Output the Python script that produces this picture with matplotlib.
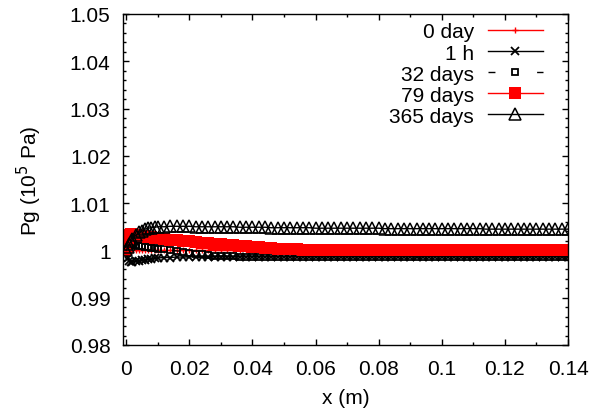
import matplotlib
matplotlib.use("Agg")
import matplotlib.pyplot as plt
from matplotlib.ticker import MultipleLocator

plt.rcParams['font.family'] = ['Liberation Sans', 'DejaVu Sans']

# distance from the boundary (m), refined mesh near x = 0
x = [0.0, 0.0005, 0.001, 0.0015, 0.002, 0.003, 0.004, 0.005, 0.006, 0.007, 0.008, 0.009, 0.010,
     0.012, 0.014, 0.016, 0.018, 0.020, 0.022, 0.024, 0.026, 0.028, 0.030,
     0.032, 0.034, 0.036, 0.038, 0.040, 0.042, 0.044, 0.046, 0.048, 0.050,
     0.052, 0.054, 0.056, 0.058, 0.060, 0.062, 0.064, 0.066, 0.068, 0.070,
     0.072, 0.074, 0.076, 0.078, 0.080, 0.082, 0.084, 0.086, 0.088, 0.090,
     0.092, 0.094, 0.096, 0.098, 0.100, 0.102, 0.104, 0.106, 0.108, 0.110,
     0.112, 0.114, 0.116, 0.118, 0.120, 0.122, 0.124, 0.126, 0.128, 0.130,
     0.132, 0.134, 0.136, 0.138, 0.140]

# gas pressure (1e5 Pa)
p_0day = [1.0, 1.0, 1.0, 1.0, 1.0, 1.0, 1.0, 1.0, 1.0, 1.0, 1.0, 1.0, 1.0,
          1.0, 1.0, 1.0, 1.0, 1.0, 1.0, 1.0, 1.0, 1.0, 1.0,
          1.0, 1.0, 1.0, 1.0, 1.0, 1.0, 1.0, 1.0, 1.0, 1.0,
          1.0, 1.0, 1.0, 1.0, 1.0, 1.0, 1.0, 1.0, 1.0, 1.0,
          1.0, 1.0, 1.0, 1.0, 1.0, 1.0, 1.0, 1.0, 1.0, 1.0,
          1.0, 1.0, 1.0, 1.0, 1.0, 1.0, 1.0, 1.0, 1.0, 1.0,
          1.0, 1.0, 1.0, 1.0, 1.0, 1.0, 1.0, 1.0, 1.0, 1.0,
          1.0, 1.0, 1.0, 1.0, 1.0]

p_1h = [1.0, 0.9985, 0.9978, 0.9976, 0.9976, 0.9977, 0.9978, 0.9979, 0.9980, 0.9981, 0.9982, 0.9983, 0.9984,
        0.9985, 0.9985, 0.9986, 0.9986, 0.9986, 0.9987, 0.9987, 0.9987, 0.9987, 0.9987,
        0.9987, 0.9987, 0.9987, 0.9987, 0.9987, 0.9987, 0.9987, 0.9987, 0.9987, 0.9987,
        0.9987, 0.9987, 0.9987, 0.9987, 0.9987, 0.9987, 0.9987, 0.9987, 0.9987, 0.9987,
        0.9987, 0.9987, 0.9987, 0.9987, 0.9987, 0.9987, 0.9987, 0.9987, 0.9987, 0.9987,
        0.9987, 0.9987, 0.9987, 0.9987, 0.9987, 0.9987, 0.9987, 0.9987, 0.9987, 0.9987,
        0.9987, 0.9987, 0.9987, 0.9987, 0.9987, 0.9987, 0.9987, 0.9987, 0.9987, 0.9987,
        0.9987, 0.9987, 0.9987, 0.9987, 0.9987]

p_32d = [1.0, 1.0005, 1.0009, 1.0011, 1.0011, 1.0011, 1.0010, 1.0009, 1.0008, 1.0007, 1.0006, 1.0005, 1.0004,
         1.0002, 1.0000, 0.9999, 0.9997, 0.9995, 0.9993, 0.9992, 0.9990, 0.9989, 0.9988,
         0.9988, 0.9988, 0.9987, 0.9987, 0.9987, 0.9987, 0.9987, 0.9987, 0.9987, 0.9987,
         0.9987, 0.9987, 0.9987, 0.9987, 0.9987, 0.9987, 0.9987, 0.9987, 0.9987, 0.9987,
         0.9987, 0.9987, 0.9987, 0.9987, 0.9987, 0.9987, 0.9987, 0.9987, 0.9986, 0.9986,
         0.9986, 0.9986, 0.9986, 0.9986, 0.9986, 0.9986, 0.9986, 0.9986, 0.9986, 0.9986,
         0.9986, 0.9986, 0.9986, 0.9986, 0.9986, 0.9986, 0.9986, 0.9986, 0.9986, 0.9986,
         0.9986, 0.9986, 0.9986, 0.9986, 0.9986]

p_79d = [1.0, 1.0025, 1.0033, 1.0034, 1.0034, 1.0033, 1.0032, 1.0031, 1.0030, 1.0029, 1.0028, 1.0027, 1.0026,
         1.0025, 1.0023, 1.0022, 1.0020, 1.0019, 1.0017, 1.0016, 1.0015, 1.0014, 1.0013,
         1.0012, 1.0011, 1.0010, 1.0009, 1.0008, 1.0007, 1.0006, 1.0005, 1.0004, 1.0004,
         1.0003, 1.0002, 1.0001, 1.0001, 1.0000, 1.0000, 1.0000, 1.0000, 1.0000, 1.0000,
         1.0000, 1.0000, 1.0000, 1.0000, 1.0000, 1.0000, 1.0000, 1.0000, 1.0000, 1.0000,
         1.0000, 1.0000, 1.0000, 1.0000, 1.0000, 1.0000, 1.0000, 1.0000, 1.0000, 1.0000,
         1.0000, 1.0000, 1.0000, 1.0000, 1.0000, 1.0000, 1.0000, 1.0000, 1.0000, 1.0000,
         1.0000, 1.0000, 1.0000, 1.0000, 1.0000]

p_365d = [1.0, 1.0007, 1.0013, 1.0019, 1.0024, 1.0032, 1.0038, 1.0042, 1.0045, 1.0047, 1.0048, 1.0049, 1.0050,
          1.0050, 1.0051, 1.0051, 1.0051, 1.0051, 1.0050, 1.0050, 1.0050, 1.0050, 1.0050,
          1.0050, 1.0050, 1.0049, 1.0049, 1.0049, 1.0049, 1.0049, 1.0048, 1.0048, 1.0048,
          1.0048, 1.0048, 1.0048, 1.0048, 1.0047, 1.0047, 1.0047, 1.0047, 1.0047, 1.0047,
          1.0047, 1.0047, 1.0047, 1.0047, 1.0047, 1.0046, 1.0046, 1.0046, 1.0046, 1.0046,
          1.0046, 1.0046, 1.0046, 1.0046, 1.0046, 1.0046, 1.0046, 1.0046, 1.0046, 1.0046,
          1.0046, 1.0045, 1.0045, 1.0045, 1.0045, 1.0045, 1.0045, 1.0045, 1.0045, 1.0045,
          1.0045, 1.0045, 1.0045, 1.0045, 1.0045]

fig = plt.figure(figsize=(5.92, 4.14), dpi=100)
ax = fig.add_axes([0.2078, 0.1643, 0.7517, 0.7995])

ax.plot(x, p_0day, color='red', lw=1, marker='+', ms=5, mew=1, label='0 day')
ax.plot(x, p_1h, color='black', lw=1, marker='x', ms=5.5, mew=1.3, label='1 h')
ax.plot(x, p_32d, color='black', lw=1, dashes=(5, 30), marker='s', ms=4.5, mew=1.3,
        mfc='none', label='32 days')
ax.plot(x, p_79d, color='red', lw=1, marker='s', ms=8.5, mew=0, label='79 days')
ax.plot(x, p_365d, color='black', lw=1, marker='^', ms=8.5, mew=1.1, mfc='none',
        label='365 days')

ax.set_xlim(-0.001, 0.14)
ax.set_ylim(0.98, 1.05)
ax.xaxis.set_minor_locator(MultipleLocator(0.01))
ax.yaxis.set_minor_locator(MultipleLocator(0.002))
ax.set_xticks([0, 0.02, 0.04, 0.06, 0.08, 0.1, 0.12, 0.14])
ax.set_xticklabels(['0', '0.02', '0.04', '0.06', '0.08', '0.1', '0.12', '0.14'])
ax.set_yticks([0.98, 0.99, 1.0, 1.01, 1.02, 1.03, 1.04, 1.05])
ax.set_yticklabels(['0.98', '0.99', '1', '1.01', '1.02', '1.03', '1.04', '1.05'])

ax.tick_params(which='both', direction='in', top=True, right=True, labelsize=15)
ax.tick_params(which='major', length=4, width=1)
ax.tick_params(which='minor', length=2, width=1)
ax.tick_params(axis='x', pad=10)
ax.tick_params(axis='y', pad=9)
for s in ax.spines.values():
    s.set_linewidth(1)

ax.set_xlabel('x (m)', fontsize=15)
ax.set_ylabel('Pg (10$^5$ Pa)', fontsize=15)
ax.xaxis.set_label_coords(0.5, -0.130)
ax.yaxis.set_label_coords(-0.177, 0.5)

ax.legend(loc='upper right', bbox_to_anchor=(0.953, 0.987), markerfirst=False,
          frameon=False, fontsize=15, handlelength=2.64, handletextpad=0.67,
          labelspacing=0.1, borderpad=0.2, borderaxespad=0, numpoints=1)

fig.savefig('out.png', dpi=100)
